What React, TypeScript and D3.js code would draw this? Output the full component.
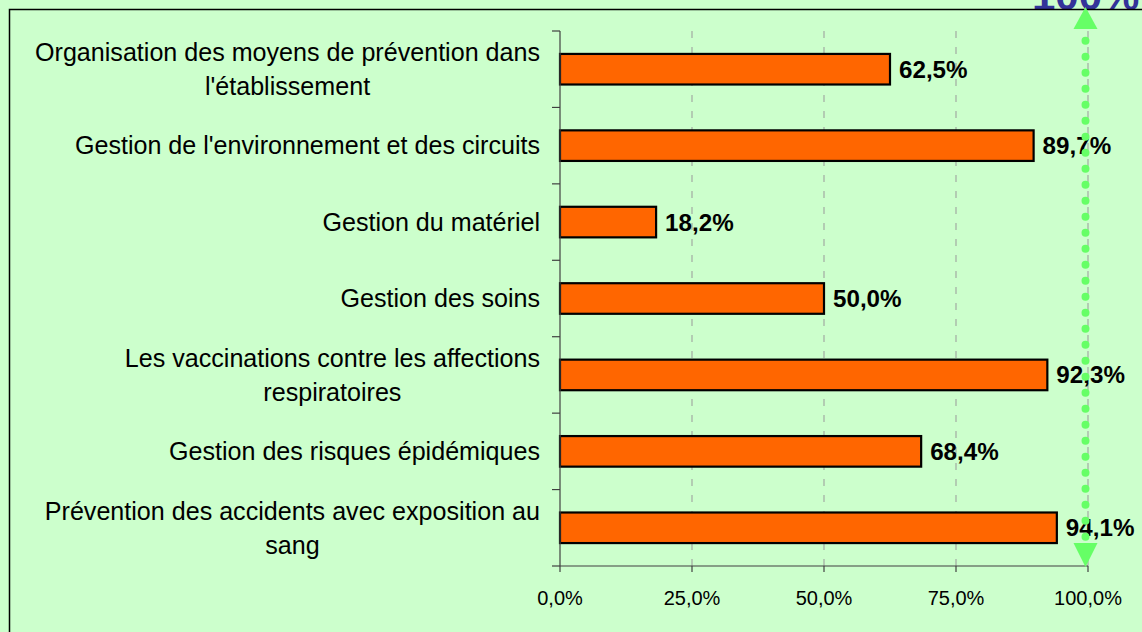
import * as d3 from "d3";

const categoryLines: string[][] = [
  ["Organisation des moyens de prévention dans", "l'établissement"],
  ["Gestion de l'environnement et des circuits"],
  ["Gestion du matériel"],
  ["Gestion des soins"],
  ["Les vaccinations contre les affections", "respiratoires"],
  ["Gestion des risques épidémiques"],
  ["Prévention des accidents avec exposition au", "sang"],
];
const values = [0.625, 0.897, 0.182, 0.5, 0.923, 0.684, 0.941];
const xTicks = [0, 0.25, 0.5, 0.75, 1];
const targetLabel = "100%";

const W = 1142;
const H = 632;
const FONT = "'Liberation Sans', Arial, sans-serif";
const BG = "#ccffcc";
const BAR = "#ff6600";
const ARROW = "#66ff66";

const measureCanvas = document.createElement("canvas").getContext("2d")!;
function textWidth(s: string, font: string) {
  measureCanvas.font = font;
  return measureCanvas.measureText(s).width;
}

const fmt = (v: number) => (v * 100).toFixed(1).replace(".", ",") + "%";

export default function App() {
  const cats = categoryLines.map((l) => l.join(" "));
  const x = d3.scaleLinear().domain([0, 1]).range([560, 1088]);
  const y = d3
    .scaleBand<string>()
    .domain(cats)
    .range([31, 566])
    .paddingInner(0.6)
    .paddingOuter(0.3);
  const step = y.step();
  const top = y.range()[0];
  const bottom = y.range()[1];
  const bounds = d3.range(cats.length + 1).map((i) => top + i * step);

  const labelSize = 25.1;
  const labelFont = `${labelSize}px ${FONT}`;
  const labelRight = 540;
  const arrowX = x(1) - 2.5;

  return (
    <svg
      width={W}
      height={H}
      style={{ position: "absolute", left: 0, top: 0, fontFamily: FONT }}
    >
      <rect x={0} y={0} width={W} height={H} fill={BG} />

      {/* title peeking above the frame */}
      <text x={1032} y={10} fontSize={42} fontWeight="bold" fill="#333399">
        {targetLabel}
      </text>
      <rect x={9.5} y={9.5} width={1300} height={800} fill="none" stroke="#000" strokeWidth={1.5} />

      {/* gridlines */}
      {xTicks.slice(1).map((t) => (
        <line
          key={t}
          x1={x(t)}
          x2={x(t)}
          y1={top}
          y2={bottom}
          stroke="#999999"
          strokeWidth={1}
          strokeDasharray="7 9"
        />
      ))}

      {/* bars */}
      {cats.map((c, i) => (
        <rect
          key={c}
          x={x(0)}
          y={y(c)}
          width={x(values[i]) - x(0)}
          height={y.bandwidth()}
          fill={BAR}
          stroke="#000"
          strokeWidth={2.2}
        />
      ))}

      {/* axes */}
      <line x1={x(0)} x2={x(0)} y1={top} y2={bottom} stroke="#404040" strokeWidth={1.2} />
      <line x1={x(0)} x2={x(1)} y1={bottom} y2={bottom} stroke="#404040" strokeWidth={1.2} />
      {bounds.map((b, i) => (
        <line key={i} x1={x(0) - 8} x2={x(0)} y1={b} y2={b} stroke="#404040" strokeWidth={1.2} />
      ))}
      {xTicks.map((t) => (
        <g key={t}>
          <line x1={x(t)} x2={x(t)} y1={bottom} y2={bottom + 6} stroke="#404040" strokeWidth={1.2} />
          <text x={x(t)} y={605} fontSize={20} textAnchor="middle" fill="#000">
            {fmt(t)}
          </text>
        </g>
      ))}

      {/* category labels */}
      {categoryLines.map((lines, i) => {
        const cy = (y(cats[i]) ?? 0) + y.bandwidth() / 2;
        const blockW = d3.max(lines, (l) => textWidth(l, labelFont)) ?? 0;
        const lh = 34;
        return lines.map((l, j) => {
          const ly = cy + (j - (lines.length - 1) / 2) * lh + 8.8;
          return lines.length === 1 ? (
            <text key={j} x={labelRight} y={ly} fontSize={labelSize} textAnchor="end" fill="#000">
              {l}
            </text>
          ) : (
            <text
              key={j}
              x={labelRight - blockW / 2}
              y={ly}
              fontSize={labelSize}
              textAnchor="middle"
              fill="#000"
            >
              {l}
            </text>
          );
        });
      })}

      {/* value labels */}
      {cats.map((c, i) => (
        <text
          key={c}
          x={x(values[i]) + 9}
          y={(y(c) ?? 0) + y.bandwidth() / 2 + 8.5}
          fontSize={24.2}
          fontWeight="bold"
          fill="#000"
        >
          {fmt(values[i])}
        </text>
      ))}

      {/* 100% target arrow */}
      <line
        x1={arrowX}
        x2={arrowX}
        y1={top + 9.7}
        y2={bottom - 26}
        stroke={ARROW}
        strokeWidth={8}
        strokeLinecap="round"
        strokeDasharray="0 16"
      />
      <path
        d={`M${arrowX},${top - 24} L${arrowX + 12},${top - 2} L${arrowX - 12},${top - 2} Z`}
        fill={ARROW}
      />
      <path
        d={`M${arrowX - 12},${bottom - 23} L${arrowX + 12},${bottom - 23} L${arrowX},${bottom + 1} Z`}
        fill={ARROW}
      />
    </svg>
  );
}
